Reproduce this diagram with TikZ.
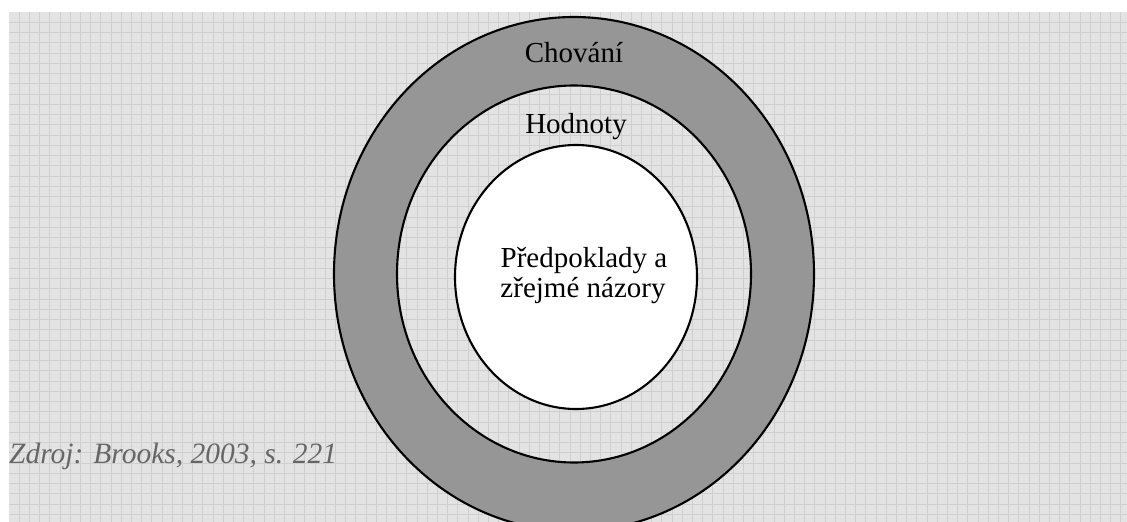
\documentclass[tikz,border=0pt]{standalone}
\usepackage{fontspec}
\setmainfont{Liberation Serif}
\begin{document}
\begin{tikzpicture}[x=1pt,y=-1pt,
  gridline/.style={draw=black!19,line width=0.8pt},
  ringline/.style={draw=black,line width=2.1pt},
  lbl/.style={font=\fontsize{29}{33}\selectfont,anchor=base,inner sep=0pt},
  src/.style={font=\fontsize{29.5}{33}\selectfont\itshape,text=black!60,anchor=base west,inner sep=0pt}]
\useasboundingbox (0,0) rectangle (1127,522);
\clip (0,0) rectangle (1127,522);
\fill[white] (0,0) rectangle (1127,522);
% grid background
\fill[black!11] (9,12) rectangle (1127,522);
\foreach \i in {1,...,109} {
  \draw[gridline] ({9+10.2*\i},12) -- ({9+10.2*\i},522);
}
\foreach \j in {1,...,50} {
  \draw[gridline] (9,{12+10.25*\j}) -- (1127,{12+10.25*\j});
}
% outer ring (grey), middle area transparent
\fill[black!41,even odd rule] (574,274) ellipse [x radius=240, y radius=257]
  (574,274) ellipse [x radius=177, y radius=188.5];
\draw[ringline] (574,274) ellipse [x radius=240, y radius=257];
\draw[ringline] (574,274) ellipse [x radius=177, y radius=188.5];
% inner ellipse
\draw[ringline,fill=white] (576,277) ellipse [x radius=121, y radius=132];
% labels
\node[lbl] (chovani) at (574,62) {Chování};
\node[lbl] (hodnoty) at (576,133) {Hodnoty};
\node[lbl] (pred1) at (584,267) {Předpoklady a};
\node[lbl] (pred2) at (583,297) {zřejmé názory};
\node[src] (zdroj) at (9,463) {Zdroj: Brooks, 2003, s. 221};
\end{tikzpicture}
\end{document}
